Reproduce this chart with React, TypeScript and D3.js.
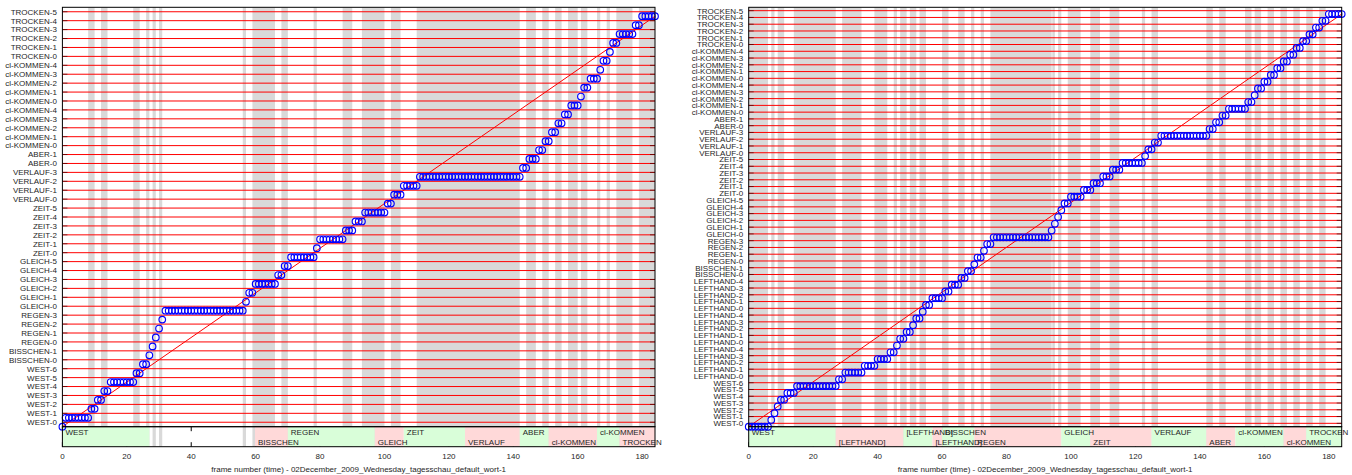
import React from "react";
import * as d3 from "d3";

// ---------- data ----------
const LAST_FRAME = 184;
const TICKS = [0, 20, 40, 60, 80, 100, 120, 140, 160, 180];
const XLABEL = "frame number (time) - 02December_2009_Wednesday_tagesschau_default_wort-1";

const rep = (w: string, n: number) => Array.from({ length: n }, (_, i) => `${w}-${i}`);

// state labels, bottom to top
const leftStates = [
  ...rep("WEST", 7), ...rep("BISSCHEN", 2), ...rep("REGEN", 4), ...rep("GLEICH", 6),
  ...rep("ZEIT", 6), ...rep("VERLAUF", 4), ...rep("ABER", 2), ...rep("cl-KOMMEN", 5),
  ...rep("cl-KOMMEN", 5), ...rep("TROCKEN", 6),
];
const rightStates = [
  ...rep("WEST", 7), ...rep("LEFTHAND", 5), ...rep("LEFTHAND", 5), ...rep("LEFTHAND", 5),
  ...rep("BISSCHEN", 2), ...rep("REGEN", 4), ...rep("GLEICH", 6), ...rep("ZEIT", 6),
  ...rep("VERLAUF", 4), ...rep("ABER", 2), ...rep("cl-KOMMEN", 5), ...rep("cl-KOMMEN", 5),
  ...rep("TROCKEN", 6),
];

// first frame at which the alignment path enters each state (state index = position)
const leftStateStart = [0, 1, 9, 11, 13, 15, 23, 25, 27, 28, 29, 30, 31, 32, 57, 58, 60, 67, 69, 71, 79, 80, 88, 91, 94, 101, 103, 106, 111, 143, 145, 148, 150, 152, 154, 156, 158, 161, 162, 164, 167, 168, 170, 171, 173, 178, 180];
const rightStateStart = [0, 7, 8, 9, 10, 12, 15, 28, 30, 36, 40, 44, 46, 47, 49, 51, 52, 54, 55, 57, 61, 63, 66, 68, 70, 71, 73, 74, 76, 94, 95, 96, 97, 98, 100, 104, 107, 110, 113, 116, 123, 124, 126, 128, 143, 145, 147, 149, 155, 157, 158, 160, 162, 164, 166, 168, 170, 172, 174, 176, 178, 180];

// gray frame bands [from, to]
const leftBands: [number, number][] = [[8, 10], [12, 14], [22, 24], [26, 27], [28, 29], [30, 31], [56, 57], [59, 66], [68, 70], [78, 79], [87, 90], [93, 100], [102, 105], [110, 142], [144, 147], [149, 151], [153, 155], [157, 160], [161, 163], [166, 167], [169, 170], [172, 177], [179, 184]];
const rightBands: [number, number][] = [[0, 6], [7, 8], [9, 11], [14, 27], [29, 35], [39, 43], [45, 46], [47, 49], [50, 52], [53, 55], [60, 62], [65, 67], [69, 70], [72, 73], [75, 94], [94.2, 95], [96, 97], [99, 103], [106, 109], [112, 115], [122, 123], [125, 127], [142, 144], [146, 148], [154, 156], [157, 159], [161, 163], [165, 167], [169, 171], [173, 175], [177, 179]];

// word segments of the annotation bar: [word, from, to, colour kind (g/p/w)]
const leftSegWords = ["WEST", "", "BISSCHEN", "REGEN", "GLEICH", "ZEIT", "VERLAUF", "ABER", "cl-KOMMEN", "cl-KOMMEN", "TROCKEN"];
const leftSegFrom = [0, 27, 59.8, 70, 97, 106, 125, 142, 151, 166, 173];
const leftSegTo = [27, 59.8, 70, 97, 106, 125, 142, 151, 166, 173, 184];
const leftSegKind = ["g", "w", "p", "g", "p", "g", "p", "g", "p", "g", "p"];

const rightSegWords = ["WEST", "[LEFTHAND]", "[LEFTHAND]", "[LEFTHAND]", "BISSCHEN", "REGEN", "GLEICH", "ZEIT", "VERLAUF", "ABER", "cl-KOMMEN", "cl-KOMMEN", "TROCKEN"];
const rightSegFrom = [0, 27, 48, 57, 60, 70, 97, 106, 125, 142, 151, 166, 173];
const rightSegTo = [27, 48, 57, 60, 70, 97, 106, 125, 142, 151, 166, 173, 184];
const rightSegKind = ["g", "p", "g", "p", "g", "p", "g", "p", "g", "p", "g", "p", "g"];

// ---------- styles ----------
const FONT = "'Liberation Sans', Arial, Helvetica, sans-serif";
const TXT = "#262626";
const GREEN = "#d9fed9";
const PINK = "#ffd9d9";
const GRAY = "#d9d9d9";

type PanelProps = {
  x0: number; x1: number;
  states: string[]; starts: number[]; bands: [number, number][];
  segWords: string[]; segFrom: number[]; segTo: number[]; segKind: string[];
};

const TOP = 7.3, MAIN_BOTTOM = 426.7, BAR_BOTTOM = 446.7;

function Panel(p: PanelProps) {
  const n = p.states.length;
  const x = d3.scaleLinear().domain([0, LAST_FRAME]).range([p.x0, p.x1]);
  const y = d3.scaleLinear().domain([0, n]).range([MAIN_BOTTOM, TOP]);

  const pts: { f: number; s: number }[] = [];
  p.starts.forEach((st, s) => {
    const end = s + 1 < p.starts.length ? p.starts[s + 1] - 1 : LAST_FRAME;
    for (let f = st; f <= end; f++) pts.push({ f, s });
  });
  const diag = d3.line<[number, number]>().x(d => x(d[0])).y(d => y(d[1]))([[0, 0], [LAST_FRAME, n - 1]]);

  const barMid = (MAIN_BOTTOM + BAR_BOTTOM) / 2;
  return (
    <g>
      {/* gray bands */}
      {p.bands.map((b, i) => (
        <rect key={"b" + i} x={x(b[0])} y={TOP} width={x(b[1]) - x(b[0])} height={BAR_BOTTOM - TOP} fill={GRAY} />
      ))}
      {/* x ticks on bar (under patches) */}
      {TICKS.map(t => (
        <g key={"xt" + t}>
          <line x1={x(t)} x2={x(t)} y1={BAR_BOTTOM} y2={BAR_BOTTOM - 4.5} stroke="#000" strokeWidth={1} />
          <line x1={x(t)} x2={x(t)} y1={MAIN_BOTTOM} y2={MAIN_BOTTOM + 4.5} stroke="#000" strokeWidth={1} />
        </g>
      ))}
      {/* bar patches */}
      {p.segWords.map((w, i) => p.segKind[i] === "w" ? null : (
        <rect key={"s" + i} x={x(p.segFrom[i])} y={MAIN_BOTTOM} width={x(p.segTo[i]) - x(p.segFrom[i])}
          height={BAR_BOTTOM - MAIN_BOTTOM} fill={p.segKind[i] === "g" ? GREEN : PINK} />
      ))}
      {p.segWords.map((w, i) => w === "" ? null : (
        <text key={"st" + i} x={x(p.segFrom[i]) + 3} y={p.segKind[i] === "g" ? barMid - 1.6 : barMid + 8.4}
          fontSize={8} fontFamily={FONT} fill={TXT}>{w}</text>
      ))}
      {/* horizontal state lines */}
      {p.states.map((s, i) => (
        <line key={"h" + i} x1={p.x0} x2={p.x1} y1={y(i + 0.5)} y2={y(i + 0.5)} stroke="#ff0000" strokeWidth={1} />
      ))}
      {/* y ticks */}
      {p.states.map((s, i) => (
        <g key={"yt" + i}>
          <line x1={p.x0} x2={p.x0 + 5} y1={y(i + 0.5)} y2={y(i + 0.5)} stroke="#000" strokeOpacity={0.55} strokeWidth={1} />
          <line x1={p.x1} x2={p.x1 - 5} y1={y(i + 0.5)} y2={y(i + 0.5)} stroke="#000" strokeOpacity={0.55} strokeWidth={1} />
        </g>
      ))}
      {/* y labels */}
      {p.states.map((s, i) => (
        <text key={"yl" + i} x={p.x0 - 5.5} y={y(i + 0.5)} dy="0.36em" textAnchor="end"
          fontSize={8} fontFamily={FONT} fill={TXT}>{s}</text>
      ))}
      {/* diagonal */}
      <path d={diag ?? ""} stroke="#ff0000" strokeWidth={1} fill="none" />
      {/* alignment points */}
      {pts.map((d, i) => (
        <circle key={"c" + i} cx={x(d.f)} cy={y(d.s)} r={3.3} fill="none" stroke="#0000ff" strokeWidth={1.15} />
      ))}
      {/* boxes */}
      <rect x={p.x0} y={TOP} width={p.x1 - p.x0} height={MAIN_BOTTOM - TOP} fill="none" stroke="#000" strokeWidth={1} />
      <rect x={p.x0} y={MAIN_BOTTOM} width={p.x1 - p.x0} height={BAR_BOTTOM - MAIN_BOTTOM} fill="none" stroke="#000" strokeWidth={1} />
      {/* x tick labels */}
      {TICKS.map(t => (
        <text key={"xl" + t} x={x(t)} y={458.5} textAnchor="middle" fontSize={8} fontFamily={FONT} fill={TXT}>{t}</text>
      ))}
      <text x={(p.x0 + p.x1) / 2} y={471.5} textAnchor="middle" fontSize={8} fontFamily={FONT} fill={TXT}>{XLABEL}</text>
    </g>
  );
}

export default function App() {
  return (
    <svg width={1352} height={475} style={{ position: "absolute", left: 0, top: 0, background: "#fff" }}>
      <rect x={0} y={0} width={1352} height={475} fill="#fff" />
      <Panel x0={62.4} x1={655} states={leftStates} starts={leftStateStart} bands={leftBands}
        segWords={leftSegWords} segFrom={leftSegFrom} segTo={leftSegTo} segKind={leftSegKind} />
      <Panel x0={748.7} x1={1341.7} states={rightStates} starts={rightStateStart} bands={rightBands}
        segWords={rightSegWords} segFrom={rightSegFrom} segTo={rightSegTo} segKind={rightSegKind} />
    </svg>
  );
}
